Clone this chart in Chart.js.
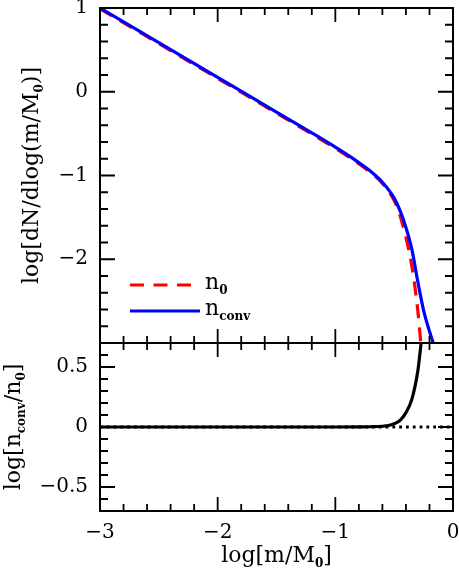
<!DOCTYPE html>
<html>
<head>
<meta charset="utf-8">
<script src="https://cdn.jsdelivr.net/npm/chart.js@4.4.1/dist/chart.umd.min.js"></script>
<style>
  body { margin: 0; background: #fff; }
  #wrap { position: relative; width: 459px; height: 574px; }
  #cTop { position: absolute; left: 0; top: 0; }
  #cBot { position: absolute; left: 0; top: 334px; }
</style>
</head>
<body>
<div id="wrap">
  <canvas id="cTop" width="459" height="352"></canvas>
  <canvas id="cBot" width="459" height="240"></canvas>
</div>
<script>
// upper panel: log dN/dlog(m/M0)
const logMZero = [-3, -2.5, -2, -1.5, -1.2, -1, -0.9, -0.8, -0.7, -0.6, -0.5, -0.45, -0.4, -0.35, -0.3, -0.28, -0.27];
const nZero = [0.99, 0.575, 0.16, -0.255, -0.505, -0.675, -0.765, -0.86, -0.965, -1.095, -1.3, -1.48, -1.74, -2.08, -2.6, -2.9, -3.05];
const logMConv = [-3, -2.5, -2, -1.5, -1.2, -1, -0.9, -0.8, -0.7, -0.6, -0.5, -0.45, -0.4, -0.35, -0.3, -0.25, -0.2, -0.17, -0.16];
const nConv = [1.0, 0.586, 0.172, -0.242, -0.49, -0.66, -0.75, -0.845, -0.95, -1.08, -1.27, -1.42, -1.62, -1.88, -2.26, -2.61, -2.86, -2.99, -3.03];

// lower panel: log(nconv/n0)
const logMRatio = [-3, -2, -1, -0.8, -0.7, -0.6, -0.55, -0.5, -0.45, -0.4, -0.35, -0.3, -0.28, -0.26];
const ratio = [0, 0, 0, 0.001, 0.002, 0.006, 0.012, 0.027, 0.055, 0.12, 0.23, 0.46, 0.62, 0.8];
const zeroX = [-3, 0];
const zeroY = [0, 0];

// tick labels
const xTicks = [-3, -2, -1, 0];
const yTicksTop = [-2, -1, 0, 1];
const yTicksBot = [-0.5, 0, 0.5];

const FAMILY = '"DejaVu Serif", "Liberation Serif", serif';
Chart.defaults.font.family = FAMILY;
Chart.defaults.font.size = 20;
Chart.defaults.color = "#000";

const pts = (xs, ys) => xs.map((x, i) => ({ x: x, y: ys[i] }));
const fmt = (v) => (v < 0 ? "\u2212" : "") + Math.abs(v);

// text with bold subscripts: parts = [[text, isSub], ...]
function richText(ctx, parts, x, y, align) {
    const big = "22px " + FAMILY;
    const small = "bold 12px " + FAMILY;
    let w = 0;
    parts.forEach((p) => {
        ctx.font = p[1] ? small : big;
        w += ctx.measureText(p[0]).width;
    });
    let cx = align === "center" ? x - w / 2 : x;
    ctx.textAlign = "left";
    ctx.textBaseline = "alphabetic";
    parts.forEach((p) => {
        ctx.font = p[1] ? small : big;
        ctx.fillText(p[0], cx, y + (p[1] ? 5 : 0));
        cx += ctx.measureText(p[0]).width;
    });
}

// PLUGIN: box frame, inward ticks, titles, legend
const framePlugin = {
    id: "frame",
    afterDraw: (chart, args, opts) => {
        const { ctx, chartArea: a, scales } = chart;
        const xs = scales.x, ys = scales.y;
        ctx.save();
        ctx.strokeStyle = "#000";
        ctx.fillStyle = "#000";
        ctx.lineWidth = 2;
        ctx.strokeRect(a.left, a.top, a.right - a.left, a.bottom - a.top);

        ctx.lineWidth = 1.8;
        ctx.beginPath();
        const eachTick = (min, max, step, major, fn) => {
            for (let k = Math.ceil(min / step - 1e-6); k * step <= max + 1e-9; k++) {
                const v = k * step;
                const r = v / major;
                fn(v, Math.abs(r - Math.round(r)) < 1e-6);
            }
        };
        eachTick(xs.min, xs.max, opts.xStep, opts.xMajor, (v, isMajor) => {
            const px = xs.getPixelForValue(v);
            const len = isMajor ? 14 : 7;
            ctx.moveTo(px, a.bottom);
            ctx.lineTo(px, a.bottom - len);
            ctx.moveTo(px, a.top);
            ctx.lineTo(px, a.top + len);
        });
        eachTick(ys.min, ys.max, opts.yStep, opts.yMajor, (v, isMajor) => {
            const py = ys.getPixelForValue(v);
            const len = isMajor ? 15 : 8;
            ctx.moveTo(a.left, py);
            ctx.lineTo(a.left + len, py);
            ctx.moveTo(a.right, py);
            ctx.lineTo(a.right - len, py);
        });
        ctx.stroke();

        // y title (rotated)
        ctx.save();
        ctx.translate(opts.yTitleX, (a.top + a.bottom) / 2);
        ctx.rotate(-Math.PI / 2);
        richText(ctx, opts.yTitle, 0, 0, "center");
        ctx.restore();

        if (opts.xTitle) {
            richText(ctx, opts.xTitle, (a.left + a.right) / 2, a.bottom + 51, "center");
        }

        if (opts.legend) {
            const lx = a.left + 30;
            ctx.lineWidth = 3;
            ctx.strokeStyle = "#ff0000";
            ctx.setLineDash([14, 9.5]);
            ctx.beginPath();
            ctx.moveTo(lx, 285);
            ctx.lineTo(lx + 70, 285);
            ctx.stroke();
            ctx.setLineDash([]);
            ctx.strokeStyle = "#0000ff";
            ctx.beginPath();
            ctx.moveTo(lx, 311);
            ctx.lineTo(lx + 70, 311);
            ctx.stroke();
            richText(ctx, [["n", false], ["0", true]], lx + 75, 289, "left");
            richText(ctx, [["n", false], ["conv", true]], lx + 75, 315, "left");
        }
        ctx.restore();
    },
};

const yFit = (s) => {
    s.width = 100;
    s.paddingTop = 0;
    s.paddingBottom = 0;
};

// 1. upper panel
new Chart(document.getElementById("cTop"), {
    type: "line",
    plugins: [framePlugin],
    data: {
        datasets: [
            {
                label: "nconv",
                data: pts(logMConv, nConv),
                borderColor: "#0000ff",
                borderWidth: 3.2,
                order: 0,
            },
            {
                label: "n0",
                data: pts(logMZero, nZero),
                borderColor: "#ff0000",
                borderWidth: 3.2,
                borderDash: [14, 9],
                order: 1,
            },
        ],
    },
    options: {
        responsive: false,
        animation: false,
        layout: { padding: { top: 8, right: 6, bottom: 9, left: 0 } },
        elements: {
            point: { radius: 0 },
            line: { cubicInterpolationMode: "monotone", borderCapStyle: "butt" },
        },
        datasets: { line: { clip: 0 } },
        scales: {
            x: { type: "linear", min: -3, max: 0, display: false },
            y: {
                type: "linear",
                min: -3,
                max: 1,
                grid: { display: false, drawTicks: false },
                border: { display: false },
                afterBuildTicks: (s) => { s.ticks = yTicksTop.map((v) => ({ value: v })); },
                afterFit: yFit,
                ticks: { padding: 12, callback: (v) => fmt(v) },
            },
        },
        plugins: {
            legend: { display: false },
            tooltip: { enabled: false },
            frame: {
                xStep: 0.2, xMajor: 1, yStep: 0.2, yMajor: 1,
                yTitleX: 38,
                yTitle: [["log[dN/dlog(m/M", false], ["0", true], [")]", false]],
                legend: true,
            },
        },
    },
});

// 2. lower panel
new Chart(document.getElementById("cBot"), {
    type: "line",
    plugins: [framePlugin],
    data: {
        datasets: [
            {
                label: "ratio",
                data: pts(logMRatio, ratio),
                borderColor: "#000",
                borderWidth: 3.2,
                order: 0,
            },
            {
                label: "zero",
                data: pts(zeroX, zeroY),
                borderColor: "#000",
                borderWidth: 2.8,
                borderDash: [2.8, 4],
                order: 1,
            },
        ],
    },
    options: {
        responsive: false,
        animation: false,
        layout: { padding: { top: 9, right: 6, bottom: 0, left: 0 } },
        elements: {
            point: { radius: 0 },
            line: { cubicInterpolationMode: "monotone", borderCapStyle: "butt" },
        },
        datasets: { line: { clip: 0 } },
        scales: {
            x: {
                type: "linear",
                min: -3,
                max: 0,
                grid: { display: false, drawTicks: false },
                border: { display: false },
                afterBuildTicks: (s) => { s.ticks = xTicks.map((v) => ({ value: v })); },
                afterFit: (s) => {
                    s.height = 63;
                    s.paddingLeft = 0;
                    s.paddingRight = 0;
                },
                ticks: { padding: 10, maxRotation: 0, callback: (v) => fmt(v) },
            },
            y: {
                type: "linear",
                min: -0.7,
                max: 0.7,
                grid: { display: false, drawTicks: false },
                border: { display: false },
                afterBuildTicks: (s) => { s.ticks = yTicksBot.map((v) => ({ value: v })); },
                afterFit: yFit,
                ticks: { padding: 12, callback: (v) => fmt(v) },
            },
        },
        plugins: {
            legend: { display: false },
            tooltip: { enabled: false },
            frame: {
                xStep: 0.2, xMajor: 1, yStep: 0.1, yMajor: 0.5,
                yTitleX: 20,
                yTitle: [["log[n", false], ["conv", true], ["/n", false], ["0", true], ["]", false]],
                xTitle: [["log[m/M", false], ["0", true], ["]", false]],
            },
        },
    },
});
</script>
</body>
</html>
